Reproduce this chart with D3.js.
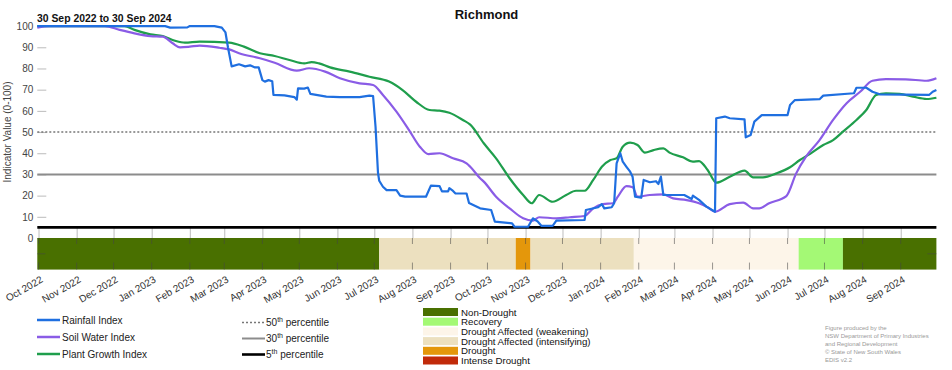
<!DOCTYPE html>
<html>
<head>
<meta charset="utf-8">
<script src="https://cdn.jsdelivr.net/npm/d3@7"></script>
<style>
  body { margin: 0; background: #fff; }
  svg text { font-family: "Liberation Sans", Arial, sans-serif; }
</style>
</head>
<body>
<div id="chart"></div>
<script>

// Chart values
var stationName = "Richmond";
var periodLabel = "30 Sep 2022 to 30 Sep 2024";
var periodStart = "2022-09-30", periodEnd = "2024-09-30";

var rainfallIndex = [
  ["2022-09-30",100],["2022-12-31",100],["2023-01-12",100],["2023-01-16",99.3],["2023-01-30",99.4],
  ["2023-02-01",100],["2023-02-21",100],["2023-02-27",99.3],["2023-03-02",97],["2023-03-04",90],
  ["2023-03-07",81],["2023-03-13",82],["2023-03-18",81],["2023-03-22",81.5],["2023-03-26",80.5],
  ["2023-03-29",80.5],["2023-04-01",74.5],["2023-04-03",73.8],["2023-04-06",74.5],["2023-04-09",74],
  ["2023-04-10",67.5],["2023-04-19",67.3],["2023-04-27",66.5],["2023-04-29",65.3],["2023-04-30",70.6],
  ["2023-05-05",70.5],["2023-05-08",71],["2023-05-10",68],["2023-05-23",66.7],["2023-06-03",66.5],
  ["2023-06-19",66.5],["2023-06-27",67.2],["2023-06-30",67],["2023-07-02",52.5],["2023-07-04",30.7],
  ["2023-07-05",27],["2023-07-08",24.2],["2023-07-11",22.6],["2023-07-19",22.6],["2023-07-22",20],
  ["2023-07-26",19.5],["2023-08-12",19.5],["2023-08-16",24.7],["2023-08-23",24.5],["2023-08-25",22],
  ["2023-08-30",22],["2023-08-31",23.5],["2023-09-03",22.2],["2023-09-05",21],["2023-09-14",21],
  ["2023-09-16",16.5],["2023-09-25",14],["2023-10-04",13.2],["2023-10-07",7.7],["2023-10-21",6.9],
  ["2023-10-23",5.3],["2023-11-03",5.3],["2023-11-07",9.3],["2023-11-09",8.5],["2023-11-11",7.7],
  ["2023-11-14",5.7],["2023-11-23",5.7],["2023-11-26",8.2],["2023-12-19",8.5],["2023-12-20",13.2],
  ["2023-12-30",14.5],["2024-01-02",16],["2024-01-04",14],["2024-01-10",14.5],["2024-01-12",16.4],
  ["2024-01-14",35.2],["2024-01-17",40],["2024-01-19",36],["2024-01-22",33.6],["2024-01-25",31.3],
  ["2024-01-27",28.9],["2024-01-29",19.5],["2024-02-03",19],["2024-02-05",27.4],["2024-02-10",26.3],
  ["2024-02-15",26.8],["2024-02-17",25.5],["2024-02-19",29],["2024-02-21",20.3],["2024-03-09",20.3],
  ["2024-03-15",18.4],["2024-03-16",20],["2024-03-21",18],["2024-03-27",14.8],["2024-04-03",12.4],
  ["2024-04-04",56.5],["2024-04-11",57.3],["2024-04-15",56.5],["2024-04-27",56],["2024-04-28",47.5],
  ["2024-05-02",48.6],["2024-05-05",54.9],["2024-05-11",58],["2024-06-01",58],["2024-06-03",62.8],
  ["2024-06-07",65.1],["2024-06-27",65.5],["2024-06-30",67.2],["2024-07-25",68.3],["2024-07-27",70.9],
  ["2024-08-04",70.9],["2024-08-09",69],["2024-08-15",67.8],["2024-09-24",67.5],["2024-09-27",69],
  ["2024-09-30",69.8]
];

var soilWaterIndex = [
  ["2022-09-30",99.3],["2022-10-10",100],["2022-11-24",100],["2022-12-06",98.2],["2022-12-18",96.6],
  ["2022-12-31",95.3],["2023-01-10",95],["2023-01-18",91.9],["2023-01-24",90],["2023-02-01",90.3],
  ["2023-02-09",90.8],["2023-02-25",89.8],["2023-03-05",89],["2023-03-13",87.2],["2023-03-30",84.8],
  ["2023-04-11",82.7],["2023-04-29",79],["2023-05-09",80.1],["2023-05-22",78.5],["2023-06-03",75.4],
  ["2023-06-19",73],["2023-06-30",72.2],["2023-07-08",67.5],["2023-07-19",59.6],["2023-07-30",50.2],
  ["2023-08-07",43.1],["2023-08-14",39.6],["2023-08-23",40],["2023-09-03",37.6],["2023-09-14",35.2],
  ["2023-09-17",33.6],["2023-09-25",28.2],["2023-09-28",26.6],["2023-10-08",19.5],["2023-10-19",14],
  ["2023-10-30",9.3],["2023-11-07",8.2],["2023-11-12",9.8],["2023-11-26",9.3],["2023-12-07",9.8],
  ["2023-12-19",10.4],["2023-12-26",14],["2024-01-03",16],["2024-01-11",16.4],["2024-01-15",19.5],
  ["2024-01-22",24.5],["2024-01-27",23.9],["2024-01-31",19.5],["2024-02-10",20.3],["2024-02-21",20.6],
  ["2024-02-29",18.7],["2024-03-11",17.9],["2024-03-21",16.4],["2024-03-28",14.5],["2024-04-03",12.4],
  ["2024-04-15",16],["2024-04-26",16.7],["2024-05-04",14],["2024-05-09",14],["2024-05-17",16.4],
  ["2024-05-31",19.8],["2024-06-08",30.5],["2024-06-16",38.4],["2024-06-27",46.2],["2024-07-08",55.7],
  ["2024-07-19",63.6],["2024-07-30",69],["2024-08-09",74.2],["2024-08-20",75],["2024-09-05",74.9],
  ["2024-09-22",74.2],["2024-09-30",75.4]
];

var plantGrowthIndex = [
  ["2022-09-30",100],["2022-12-10",100],["2022-12-18",98.2],["2022-12-31",96.1],["2023-01-10",95.3],
  ["2023-01-20",93.1],["2023-01-28",92.2],["2023-02-09",92.7],["2023-03-05",92.2],["2023-03-17",90.3],
  ["2023-03-30",87.2],["2023-04-11",85.9],["2023-04-23",84],["2023-05-05",82.4],["2023-05-11",83],
  ["2023-05-17",82.4],["2023-05-26",80.5],["2023-06-11",78.5],["2023-06-27",76.1],["2023-07-13",73.8],
  ["2023-07-24",69.8],["2023-08-04",64.3],["2023-08-15",60.4],["2023-08-23",60.1],["2023-08-31",59.1],
  ["2023-09-11",55.7],["2023-09-17",53.5],["2023-09-28",44.7],["2023-10-08",37.6],["2023-10-19",28.2],
  ["2023-10-30",20.3],["2023-11-06",16.4],["2023-11-12",20.3],["2023-11-23",17.1],["2023-12-04",20.3],
  ["2023-12-12",22.3],["2023-12-19",22.3],["2023-12-26",27.4],["2024-01-02",33.6],["2024-01-09",36.8],
  ["2024-01-14",37.6],["2024-01-19",43.1],["2024-01-25",45],["2024-01-31",43.9],["2024-02-06",40.3],
  ["2024-02-13",41.5],["2024-02-21",42.3],["2024-02-26",40.3],["2024-03-08",38.1],["2024-03-16",36],
  ["2024-03-21",36.3],["2024-03-28",32.1],["2024-04-04",26.1],["2024-04-15",28.9],["2024-04-27",31.8],
  ["2024-05-04",28.6],["2024-05-12",28.6],["2024-05-23",30.5],["2024-06-03",33.4],["2024-06-11",36.8],
  ["2024-06-19",39.6],["2024-06-30",43.9],["2024-07-08",46.2],["2024-07-16",50.2],["2024-07-27",55.7],
  ["2024-08-04",60.4],["2024-08-12",67.5],["2024-08-20",68.3],["2024-08-31",68],["2024-09-11",66.7],
  ["2024-09-22",65.6],["2024-09-30",66.2]
];

// Drought stage periods (start dates; each runs until the next one)
var stageStarts = ["2022-09-30","2023-07-05","2023-10-24","2023-11-05","2024-01-28","2024-06-10","2024-07-16"];
var stageNames = ["Non-Drought","Drought Affected (intensifying)","Drought","Drought Affected (intensifying)",
                  "Drought Affected (weakening)","Recovery","Non-Drought"];

var stageCategories = ["Non-Drought","Recovery","Drought Affected (weakening)",
                       "Drought Affected (intensifying)","Drought","Intense Drought"];
var percentileValues = [50, 30, 5];
var yTickValues = [0,10,20,30,40,50,60,70,80,90,100];
var seriesNames = ["Rainfall Index","Soil Water Index","Plant Growth Index"];
var credits = ["Figure produced by the","NSW Department of Primary Industries",
               "and Regional Development","\u00a9 State of New South Wales","EDIS v2.2"];

// Styles
var stageColor = {
  "Non-Drought": "#497000",
  "Recovery": "#a4f975",
  "Drought Affected (weakening)": "#fdf5e9",
  "Drought Affected (intensifying)": "#ece0bf",
  "Drought": "#e4970b",
  "Intense Drought": "#c12a0a"
};
var seriesColor = ["#1f6fe0", "#8a5ce6", "#1f9e4c"];
var percentileStyle = [
  {stroke: "#777", width: 1.6, dash: "2,2"},
  {stroke: "#8c8c8c", width: 2, dash: null},
  {stroke: "#000", width: 2.6, dash: null}
];

var width = 952, height = 370;
var parse = d3.timeParse("%Y-%m-%d");

var svg = d3.select("#chart")
  .append("svg")
  .attr("width", width)
  .attr("height", height);

// Scales
var x = d3.scaleTime()
  .domain([parse(periodStart), parse(periodEnd)])
  .range([37.3, 936.4]);

var y = d3.scaleLinear()
  .domain([0, 100])
  .range([238, 26.1]);

var bandTop = y(0), bandBottom = y(-14.9);
var months = d3.timeMonth.range(d3.timeMonth.ceil(x.domain()[0]), x.domain()[1]);

// Title and period
svg.append("text")
  .attr("x", 486.5).attr("y", 18.5)
  .attr("text-anchor", "middle")
  .style("font-size", "13px").style("font-weight", "bold").style("fill", "#111")
  .text(stationName);

svg.append("text")
  .attr("x", 37).attr("y", 21.5)
  .style("font-size", "10.4px").style("font-weight", "bold").style("fill", "#111")
  .text(periodLabel);

// Y axis (inner ticks, no domain line)
var yAxis = svg.append("g")
  .attr("transform", "translate(" + x.range()[0] + ",0)")
  .call(d3.axisLeft(y).tickValues(yTickValues).tickSize(-9).tickPadding(4));
yAxis.select(".domain").remove();
yAxis.selectAll("line").attr("stroke", "#bbb");
yAxis.selectAll("text").style("font-size", "10px").style("fill", "#444")
  .style("font-family", "'Liberation Sans', Arial, sans-serif");

svg.append("text")
  .attr("transform", "rotate(-90)")
  .attr("x", -132).attr("y", 11)
  .attr("text-anchor", "middle")
  .style("font-size", "10px").style("fill", "#444")
  .text("Indicator Value (0-100)");

// Month grid lines between the 5th percentile and the stage band
var xGrid = svg.append("g")
  .attr("transform", "translate(0," + bandTop + ")")
  .call(d3.axisTop(x).tickValues(months).tickSize(bandTop - y(5)).tickFormat(""));
xGrid.select(".domain").remove();
xGrid.selectAll("line").attr("stroke", "#bdbdbd");

// Drought stage band
var stages = stageStarts.map(function(s, i) {
  return {
    start: parse(s),
    end: parse(i < stageStarts.length - 1 ? stageStarts[i + 1] : periodEnd),
    name: stageNames[i]
  };
});

svg.selectAll("rect.stage")
  .data(stages)
  .enter()
  .append("rect")
  .attr("class", "stage")
  .attr("x", function(d) { return x(d.start); })
  .attr("y", bandTop)
  .attr("width", function(d) { return x(d.end) - x(d.start); })
  .attr("height", bandBottom - bandTop)
  .attr("fill", function(d) { return stageColor[d.name]; });

// Tick marks inside the band, top and bottom
var bandTicks = svg.append("g").attr("stroke", "rgba(70,70,70,0.55)").attr("stroke-width", 1);
bandTicks.selectAll("line.t")
  .data(months).enter().append("line")
  .attr("x1", function(d) { return x(d); }).attr("x2", function(d) { return x(d); })
  .attr("y1", bandTop).attr("y2", bandTop + 6);
bandTicks.selectAll("line.b")
  .data(months).enter().append("line")
  .attr("x1", function(d) { return x(d); }).attr("x2", function(d) { return x(d); })
  .attr("y1", bandBottom - 7).attr("y2", bandBottom);
bandTicks.append("line")
  .attr("x1", x.range()[0]).attr("x2", x.range()[0] + 8)
  .attr("y1", (bandTop + bandBottom) / 2).attr("y2", (bandTop + bandBottom) / 2);
bandTicks.append("line")
  .attr("x1", x.range()[1] - 9).attr("x2", x.range()[1])
  .attr("y1", (bandTop + bandBottom) / 2).attr("y2", (bandTop + bandBottom) / 2);

// Month labels
var monthFmt = d3.timeFormat("%b %Y");
svg.selectAll("text.month")
  .data(months)
  .enter()
  .append("text")
  .attr("class", "month")
  .attr("transform", function(d) { return "translate(" + (x(d) + 5) + "," + (bandBottom + 12) + ") rotate(-30)"; })
  .attr("text-anchor", "end")
  .style("font-size", "10px").style("fill", "#333")
  .text(monthFmt);

// Percentile reference lines
svg.selectAll("line.pct")
  .data(percentileValues)
  .enter()
  .append("line")
  .attr("class", "pct")
  .attr("x1", x.range()[0]).attr("x2", x.range()[1])
  .attr("y1", function(d) { return y(d); }).attr("y2", function(d) { return y(d); })
  .attr("stroke", function(d, i) { return percentileStyle[i].stroke; })
  .attr("stroke-width", function(d, i) { return percentileStyle[i].width; })
  .attr("stroke-dasharray", function(d, i) { return percentileStyle[i].dash; });

// Index lines
var series = [plantGrowthIndex, soilWaterIndex, rainfallIndex];
var seriesOrder = [2, 1, 0];
var line = d3.line()
  .x(function(d) { return x(parse(d[0])); })
  .y(function(d) { return y(d[1]); });

series.forEach(function(s, i) {
  var k = seriesOrder[i];
  svg.append("path")
    .datum(s)
    .attr("fill", "none")
    .attr("stroke", seriesColor[k])
    .attr("stroke-width", 2.2)
    .attr("stroke-linejoin", "round")
    .attr("d", line.curve(k === 0 ? d3.curveLinear : d3.curveMonotoneX));
});

// Legend: series
var legendRows = [320, 337, 354];
seriesNames.forEach(function(name, i) {
  svg.append("line")
    .attr("x1", 37).attr("x2", 60)
    .attr("y1", legendRows[i]).attr("y2", legendRows[i])
    .attr("stroke", seriesColor[i]).attr("stroke-width", 2.5);
  svg.append("text")
    .attr("x", 62).attr("y", legendRows[i] + 3.5)
    .style("font-size", "10px").style("fill", "#222")
    .text(name);
});

// Legend: percentiles
var pctRows = [322.5, 338.5, 354.5];
percentileValues.forEach(function(p, i) {
  svg.append("line")
    .attr("x1", 242).attr("x2", 265)
    .attr("y1", pctRows[i]).attr("y2", pctRows[i])
    .attr("stroke", percentileStyle[i].stroke)
    .attr("stroke-width", percentileStyle[i].width)
    .attr("stroke-dasharray", percentileStyle[i].dash);
  var t = svg.append("text")
    .attr("x", 266).attr("y", pctRows[i] + 3.5)
    .style("font-size", "10px").style("fill", "#222");
  t.append("tspan").text(p);
  t.append("tspan").attr("dy", -4).style("font-size", "7px").text("th");
  t.append("tspan").attr("dy", 4).text(" percentile");
});

// Legend: drought stages
stageCategories.forEach(function(c, i) {
  var cy = 312 + i * 9.7;
  svg.append("rect")
    .attr("x", 423).attr("y", cy - 4)
    .attr("width", 35).attr("height", 8)
    .attr("fill", stageColor[c]);
  svg.append("text")
    .attr("x", 461).attr("y", cy + 3.5)
    .style("font-size", "9.7px").style("fill", "#111")
    .text(c);
});

// Credits
credits.forEach(function(c, i) {
  svg.append("text")
    .attr("x", 825).attr("y", 329.5 + i * 8.2)
    .style("font-size", "6px").style("fill", "#999")
    .text(c);
});

</script>
</body>
</html>
